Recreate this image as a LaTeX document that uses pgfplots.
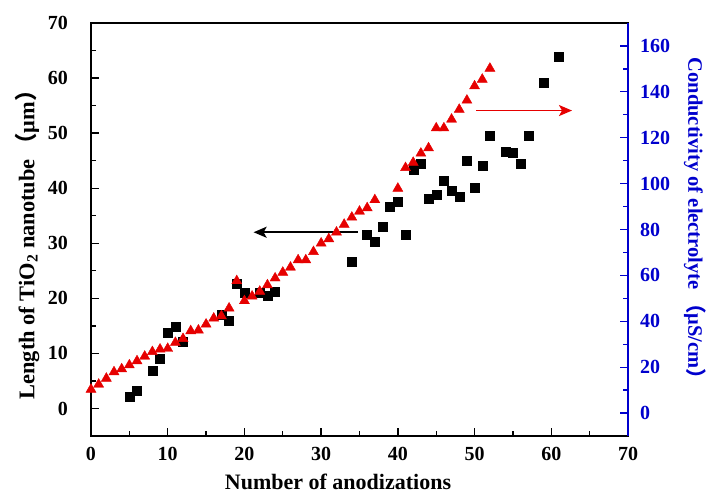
\documentclass[border=0pt]{standalone}
\usepackage{fontspec}
\setmainfont{Liberation Serif}
\newfontfamily\cjk{Noto Sans CJK SC}
\usepackage{pgfplots}
\pgfplotsset{compat=1.18}
\usetikzlibrary{arrows.meta}
\definecolor{myred}{RGB}{230,0,0}
\definecolor{myblue}{RGB}{0,0,205}
\pgfplotstableread{
x y
5 2.2
6 3.3
8 6.9
9 9.0
10 13.8
11 14.8
12 12.1
17 17.1
18 16.0
19 22.7
20 21.0
22 21.1
23 20.5
24 21.2
34 26.6
36 31.6
37 30.2
38 33.0
39 36.7
40 37.5
41 31.6
42 43.4
43 44.4
44 38.1
45 38.8
46 41.3
47 39.6
48 38.5
49 45.0
50 40.0
51 44.0
52 49.6
54 46.6
55 46.5
56 44.4
57 49.5
59 59.1
61 63.8
}\lengthdata
\pgfplotstableread{
x y
0 10.3
1 12.5
2 15.1
3 17.9
4 19.2
5 20.9
6 22.7
7 24.7
8 26.7
9 27.8
10 28.1
11 30.7
12 32.4
13 35.8
14 36.1
15 38.7
16 41.3
17 42.3
18 45.7
19 57.6
20 48.9
21 50.9
22 53.0
23 55.8
24 58.8
25 61.3
26 63.5
27 66.7
28 66.7
29 70.3
30 74.0
31 75.9
32 78.8
33 82.2
34 85.3
35 87.9
36 89.4
37 92.9
40 97.9
41 106.9
42 109.2
43 113.2
44 115.5
45 124.2
46 124.2
47 128.0
48 132.3
49 136.3
50 142.5
51 145.4
52 150.2
}\conddata
\begin{document}
\begin{tikzpicture}
\pgfplotsset{
  base/.style={
    scale only axis, width=537pt, height=413pt,
    xmin=0, xmax=70,
    /pgf/number format/assume math mode=true,
    tick label style={font=\fontsize{20}{24}\selectfont\bfseries, inner sep=0pt},
    label style={font=\fontsize{22}{26}\selectfont\bfseries},
    tick align=inside,
    major tick length=8pt, minor tick length=5pt,
    every tick/.style={line width=1.3pt},
    axis line style={line width=1.5pt},
  }
}
\begin{axis}[base,
  ymin=-5, ymax=70,
  xtick={0,10,...,70}, minor x tick num=1,
  ytick={0,10,...,70}, minor y tick num=1,
  xtick pos=bottom, ytick pos=left,
  xticklabel style={yshift=-11pt},
  yticklabel style={xshift=-23pt},
  xlabel={Number of anodizations},
  ylabel={Length of TiO\textsubscript{2} nanotube\,{\cjk （}μm{\cjk ）}},
  xlabel style={at={(axis description cs:0.46,-0.112)}, anchor=center},
  ylabel style={at={(axis description cs:-0.119,0.476)}, anchor=center, font=\fontsize{22.4}{26}\selectfont\bfseries},
]
\addplot[only marks, mark=square*, mark size=4.5pt, black] table {\lengthdata};
\draw[line width=1.6pt, -{Stealth[length=13pt,width=11pt,inset=3pt]}] (axis cs:34.8,32) -- (axis cs:21.2,32);
\draw[myred, line width=1.8pt, -{Stealth[length=13pt,width=11pt,inset=3pt]}] (axis cs:50.2,54.1) -- (axis cs:62.7,54.1);
\coordinate (SW) at (rel axis cs:0,0);
\coordinate (NE) at (rel axis cs:1,1);
\end{axis}
\begin{axis}[base,
  ymin=-10, ymax=170,
  axis x line=none,
  axis y line*=right,
  ytick={0,20,...,160}, minor y tick num=1,
  y axis line style={myblue},
  ytick style={myblue},
  yticklabel style={myblue, xshift=12pt},
  ylabel={Conductivity of electrolyte\,{\cjk （}μS/cm{\cjk ）}},
  ylabel style={myblue, at={(axis description cs:1.125,0.515)}, anchor=center, rotate=180, font=\fontsize{20.5}{24}\selectfont\bfseries},
]
\addplot[only marks, mark=triangle*, mark size=5.8pt, myred] table {\conddata};
\end{axis}
\pgfresetboundingbox
\path ([shift={(-91pt,-66pt)}]SW) rectangle ([shift={(81pt,23pt)}]NE);
\end{tikzpicture}
\end{document}
